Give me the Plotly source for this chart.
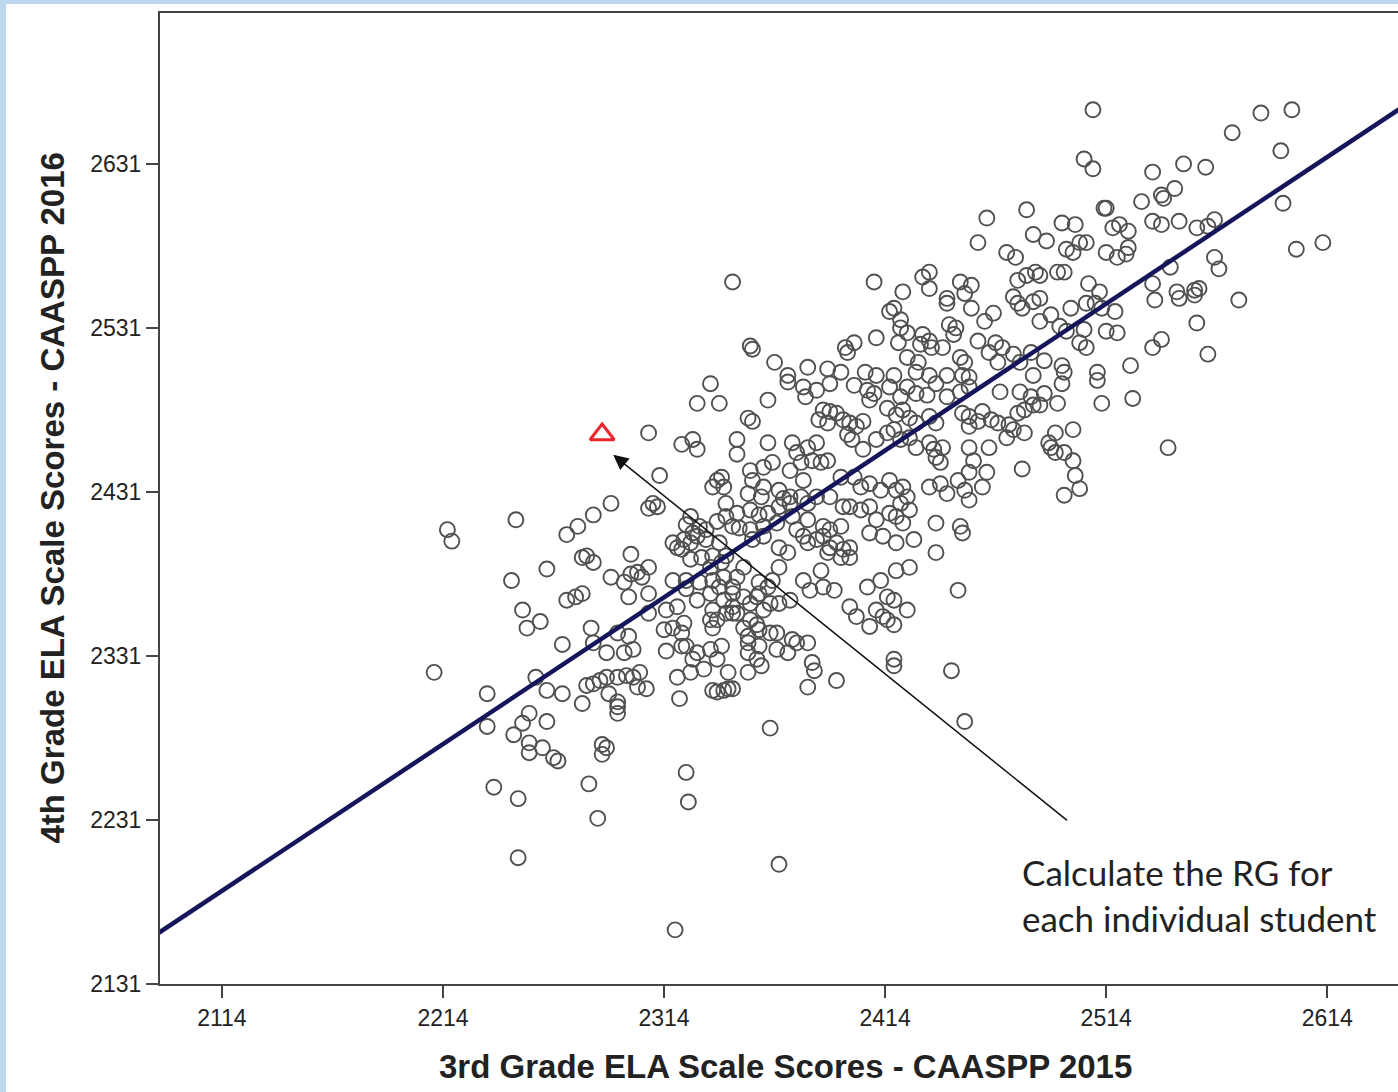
import plotly.graph_objects as go

# ---- data ----
# (3rd grade ELA 2015, 4th grade ELA 2016) per student
students = [
    (2345,2559),(2409,2559),(2460,2598),(2478,2603),(2481,2588),(2456,2583),(2469,2577),(2473,2574),(2434,2565),(2431,2562),
    (2434,2555),(2422,2553),(2448,2559),(2453,2557),(2450,2552),(2442,2549),(2442,2546),(2453,2543),(2463,2540),(2459,2535),
    (2474,2560),(2478,2563),(2482,2565),(2472,2550),(2474,2546),(2476,2543),(2481,2547),(2416,2541),(2418,2543),(2421,2536),
    (2421,2531),(2424,2528),(2431,2527),(2434,2523),(2430,2521),(2435,2519),(2443,2533),(2446,2531),(2445,2527),(2410,2525),
    (2420,2522),(2456,2523),(2464,2522),(2467,2519),(2424,2513),(2429,2510),(2440,2519),(2448,2513),(2450,2510),(2461,2516),
    (2465,2510),(2472,2515),(2475,2510),(2396,2519),(2400,2522),(2397,2516),(2353,2520),(2354,2518),(2364,2510),(2370,2502),
    (2379,2507),(2388,2506),(2394,2504),(2405,2504),(2410,2502),(2418,2502),(2428,2504),(2434,2502),(2442,2502),(2449,2502),
    (2452,2501),(2480,2516),(2481,2502),
    (2508,2664),(2584,2662),(2598,2664),(2571,2650),(2593,2639),(2504,2634),(2508,2628),(2535,2626),(2549,2631),(2559,2629),
    (2530,2608),(2539,2612),(2545,2616),(2540,2610),(2513,2604),(2514,2604),(2494,2595),(2500,2594),(2487,2584),(2502,2583),
    (2505,2583),(2496,2579),(2499,2577),(2517,2592),(2520,2594),(2524,2590),(2514,2577),(2519,2574),(2523,2576),(2524,2580),
    (2535,2596),(2539,2594),(2547,2596),(2555,2592),(2560,2593),(2563,2597),(2594,2607),(2600,2579),(2612,2583),(2563,2574),
    (2565,2567),(2543,2568),(2535,2558),(2484,2563),(2492,2565),(2495,2565),(2506,2558),(2511,2553),(2536,2548),(2546,2553),
    (2547,2549),(2554,2554),(2556,2555),(2554,2551),(2574,2548),(2555,2534),(2560,2515),(2535,2519),(2539,2524),(2525,2508),
    (2510,2504),(2498,2543),(2505,2546),(2509,2546),(2512,2543),(2518,2541),(2484,2549),(2489,2539),(2484,2535),(2493,2532),
    (2496,2529),(2504,2530),(2514,2529),(2519,2528),(2502,2522),(2505,2519),(2486,2511),(2494,2508),(2495,2504),
    (2307,2467),(2335,2497),(2329,2485),(2339,2485),(2322,2460),(2327,2463),(2329,2457),(2312,2441),(2290,2424),(2282,2417),
    (2275,2410),(2270,2405),(2247,2414),(2216,2408),(2218,2401),(2309,2424),(2311,2422),(2307,2421),(2338,2438),(2340,2440),
    (2336,2434),(2341,2434),(2261,2384),(2245,2377),(2277,2391),(2279,2392),(2282,2388),(2299,2393),(2290,2379),(2299,2381),
    (2302,2382),(2304,2379),(2307,2385),(2296,2376),(2298,2367),(2270,2365),(2274,2367),(2277,2369),(2250,2359),(2252,2348),
    (2258,2352),(2318,2400),(2320,2397),(2322,2396),(2326,2400),(2329,2404),(2333,2408),(2331,2391),(2335,2385),(2340,2388),
    (2342,2392),(2318,2377),(2324,2372),(2329,2365),(2335,2369),(2339,2373),(2307,2369),(2307,2357),(2315,2359),(2320,2361),
    (2318,2348),(2314,2347),(2322,2345),(2336,2359),(2338,2353),(2336,2348),(2342,2357),(2281,2348),(2282,2339),(2268,2338),
    (2293,2345),(2298,2343),(2300,2335),(2296,2333),(2288,2333),(2315,2334),(2322,2337),(2329,2333),(2335,2335),(2340,2337),
    (2370,2498),(2377,2495),(2383,2493),(2378,2489),(2361,2487),(2389,2497),(2400,2496),(2406,2493),(2409,2491),(2407,2487),
    (2416,2495),(2421,2489),(2424,2495),(2428,2491),(2433,2490),(2437,2497),(2442,2489),(2448,2492),(2452,2495),(2466,2492),
    (2475,2492),(2480,2489),(2481,2484),(2477,2481),(2474,2479),
    (2352,2476),(2354,2474),(2386,2481),(2389,2480),(2384,2475),(2388,2473),(2392,2479),(2395,2475),(2398,2473),(2401,2471),
    (2404,2474),(2415,2482),(2419,2478),(2422,2481),(2425,2476),(2428,2473),(2434,2477),(2437,2473),(2449,2479),(2452,2477),
    (2456,2474),(2458,2480),(2462,2475),(2465,2473),(2470,2472),(2472,2469),(2452,2471),
    (2347,2463),(2347,2454),(2361,2461),(2372,2461),(2374,2455),(2379,2458),(2383,2461),(2381,2450),(2385,2449),(2388,2450),
    (2397,2466),(2399,2463),(2404,2457),(2410,2463),(2415,2467),(2418,2469),(2421,2463),(2425,2464),(2428,2458),(2434,2461),
    (2436,2457),(2437,2452),(2440,2458),(2439,2449),(2452,2458),(2454,2450),(2461,2458),(2469,2464),(2477,2467),
    (2353,2444),(2359,2446),(2363,2449),(2371,2444),(2377,2438),(2354,2438),(2359,2434),(2352,2430),(2358,2428),(2366,2432),
    (2371,2428),(2394,2440),(2400,2440),(2403,2434),(2407,2436),(2412,2432),(2416,2438),(2419,2432),(2422,2434),(2424,2428),
    (2421,2424),(2434,2434),(2439,2436),(2442,2430),(2447,2438),(2450,2432),(2452,2443),(2460,2443),(2458,2434),(2452,2426),
    (2476,2445),
    (2347,2418),(2353,2420),(2361,2418),(2366,2422),(2371,2424),(2379,2424),(2383,2428),(2389,2428),(2395,2422),(2398,2422),
    (2403,2420),(2407,2422),(2410,2414),(2416,2418),(2419,2416),(2422,2412),(2425,2420),(2379,2414),(2386,2410),(2389,2408),
    (2394,2410),(2437,2412),(2448,2410),(2449,2406),(2345,2410),(2353,2408),(2359,2410),(2365,2412),
    (2366,2397),(2370,2394),(2366,2385),(2379,2400),(2383,2402),(2386,2404),(2389,2397),(2392,2400),(2395,2396),(2398,2397),
    (2388,2394),(2394,2391),(2398,2391),(2407,2406),(2413,2404),(2419,2400),(2427,2402),(2437,2394),(2350,2385),
    (2377,2377),(2385,2383),(2380,2371),(2386,2373),(2391,2371),(2406,2373),(2412,2377),(2419,2383),(2425,2385),(2415,2367),
    (2418,2365),(2398,2361),(2410,2359),(2413,2355),(2415,2353),(2424,2359),(2447,2371),(2345,2369),(2350,2367),(2357,2369),
    (2361,2373),(2366,2363),(2363,2377),
    (2350,2348),(2353,2353),(2347,2357),(2357,2347),(2365,2345),(2372,2341),(2379,2339),(2352,2339),(2357,2337),(2365,2335),
    (2401,2355),(2407,2349),(2418,2350),(2418,2329),(2381,2327),
    (2494,2497),(2510,2499),(2486,2491),(2484,2484),(2492,2485),(2512,2485),(2526,2488),(2499,2469),(2491,2467),(2488,2461),
    (2489,2458),(2491,2455),(2495,2455),(2499,2450),(2500,2441),(2502,2433),(2495,2429),(2542,2458),
    (2210,2321),(2234,2308),(2256,2318),(2261,2310),(2268,2308),(2277,2302),(2279,2313),(2282,2314),(2285,2316),(2288,2318),
    (2293,2318),(2297,2319),(2300,2318),(2303,2321),(2302,2312),(2306,2311),(2289,2308),(2293,2303),(2293,2300),(2293,2296),
    (2320,2318),(2321,2305),(2336,2310),(2338,2309),(2341,2310),(2343,2311),(2234,2288),(2246,2283),(2250,2290),(2253,2296),
    (2261,2291),(2253,2278),(2253,2272),(2259,2275),(2264,2269),(2266,2267),(2286,2277),(2288,2275),(2286,2271),(2280,2253),
    (2324,2260),(2325,2242),(2237,2251),(2248,2244),(2284,2232),(2248,2208),(2319,2164),
    (2358,2325),(2382,2322),(2379,2312),(2392,2316),(2345,2311),(2418,2325),(2444,2322),(2362,2287),(2450,2291),(2366,2204),
    (2376,2449),(2342,2424),(2368,2427),(2376,2428),(2326,2416),(2324,2411),(2330,2410),(2327,2406),(2338,2413),(2342,2416),
    (2348,2409),(2357,2417),(2372,2416),(2374,2408),(2377,2404),(2333,2402),(2323,2402),(2339,2400),(2354,2402),(2359,2404),
    (2326,2390),(2336,2392),(2324,2377),(2330,2376),(2336,2377),(2341,2379),(2347,2379),(2345,2373),(2357,2376),(2341,2365),
    (2345,2361),(2353,2363),(2356,2367),(2359,2359),(2362,2363),(2371,2365),(2323,2351),(2335,2353),(2345,2357),(2356,2350),
    (2352,2343),(2362,2345),(2374,2339),(2324,2337),(2327,2329),(2338,2329),(2352,2333),(2356,2329),(2370,2333),(2326,2321),
    (2332,2323),(2343,2321),(2352,2321),
]
grade3_2015 = [s[0] for s in students]
grade4_2016 = [s[1] for s in students]

# highlighted student
highlight_x = [2286]
highlight_y = [2466]

# fitted regression line: y = fit_intercept + fit_slope * (x - fit_x0)
fit_x0 = 2086
fit_intercept = 2162.7
fit_slope = 0.895
fit_x = [2080, 2660]
fit_y = [fit_intercept + fit_slope * (v - fit_x0) for v in fit_x]

x_ticks = [2114, 2214, 2314, 2414, 2514, 2614]
y_ticks = [2131, 2231, 2331, 2431, 2531, 2631]
x_range = [2086, 2646]
y_range = [2131, 2723]

# arrow from label to highlighted point
arrow_tail = (2497, 2230)
arrow_head = (2291, 2453.6)

AXC = "#444444"
fig = go.Figure()
fig.add_trace(go.Scatter(
    x=grade3_2015, y=grade4_2016, mode="markers",
    marker=dict(symbol="circle-open", size=15, color="#505050", line=dict(width=1.9, color="#505050")),
    hoverinfo="x+y", cliponaxis=False,
))
fig.add_trace(go.Scatter(
    x=fit_x, y=fit_y, mode="lines", line=dict(color="#15155c", width=4.5), hoverinfo="skip",
))
fig.add_trace(go.Scatter(
    x=highlight_x, y=highlight_y, mode="markers",
    marker=dict(symbol="triangle-up-open", size=21, color="#e8262e", line=dict(width=3, color="#e8262e")),
))

fig.add_annotation(
    x=arrow_head[0], y=arrow_head[1], xref="x", yref="y",
    ax=arrow_tail[0], ay=arrow_tail[1], axref="x", ayref="y",
    text="", showarrow=True, arrowhead=2, arrowsize=2, arrowwidth=1.5, arrowcolor="#111111", standoff=0,
)
fig.add_annotation(
    x=0.6947, y=0.139, xref="paper", yref="paper", xanchor="left", yanchor="top",
    text="Calculate the RG for<br>each individual student", align="left", showarrow=False,
    font=dict(family="Lato, Open Sans, sans-serif", size=35, color="#222222"),
)
fig.add_annotation(
    x=0.505, y=-0.085, xref="paper", yref="paper", xanchor="center", yanchor="middle",
    text="<b>3rd Grade ELA Scale Scores - CAASPP 2015</b>", showarrow=False,
    font=dict(family="Liberation Sans, Arial, sans-serif", size=33, color="#222222"),
)
fig.add_annotation(
    x=-0.0872, y=0.5, xref="paper", yref="paper", xanchor="center", yanchor="middle", textangle=-90,
    text="<b>4th Grade ELA Scale Scores - CAASPP 2016</b>", showarrow=False,
    font=dict(family="Liberation Sans, Arial, sans-serif", size=33, color="#222222"),
)

# light-blue slide frame strips
fig.add_shape(type="rect", xref="paper", yref="paper", x0=-0.1293, x1=-0.1244, y0=-0.115, y1=1.0134,
              fillcolor="#bdd7ee", line=dict(width=0), layer="below")
fig.add_shape(type="rect", xref="paper", yref="paper", x0=-0.1293, x1=1.0, y0=1.0093, y1=1.0134,
              fillcolor="#bdd7ee", line=dict(width=0), layer="below")

tickfont = dict(family="Liberation Sans, Arial, sans-serif", size=23, color="#222222")
fig.update_layout(
    width=1398, height=1092, autosize=False,
    margin=dict(l=160, r=0, t=13, b=108),
    paper_bgcolor="white", plot_bgcolor="white", showlegend=False,
    xaxis=dict(range=x_range, tickvals=x_ticks, ticks="outside", ticklen=12, tickwidth=2, tickcolor=AXC,
               showline=True, linewidth=2, linecolor=AXC, mirror=True, showgrid=False, zeroline=False,
               tickfont=tickfont),
    yaxis=dict(range=y_range, tickvals=y_ticks, ticks="outside", ticklen=12, tickwidth=2, tickcolor=AXC,
               showline=True, linewidth=2, linecolor=AXC, showgrid=False, zeroline=False,
               tickfont=tickfont),
)
fig.write_html("out.html", config={"displayModeBar": False},
               post_script="document.body.style.margin='0';document.body.style.overflow='hidden';")
